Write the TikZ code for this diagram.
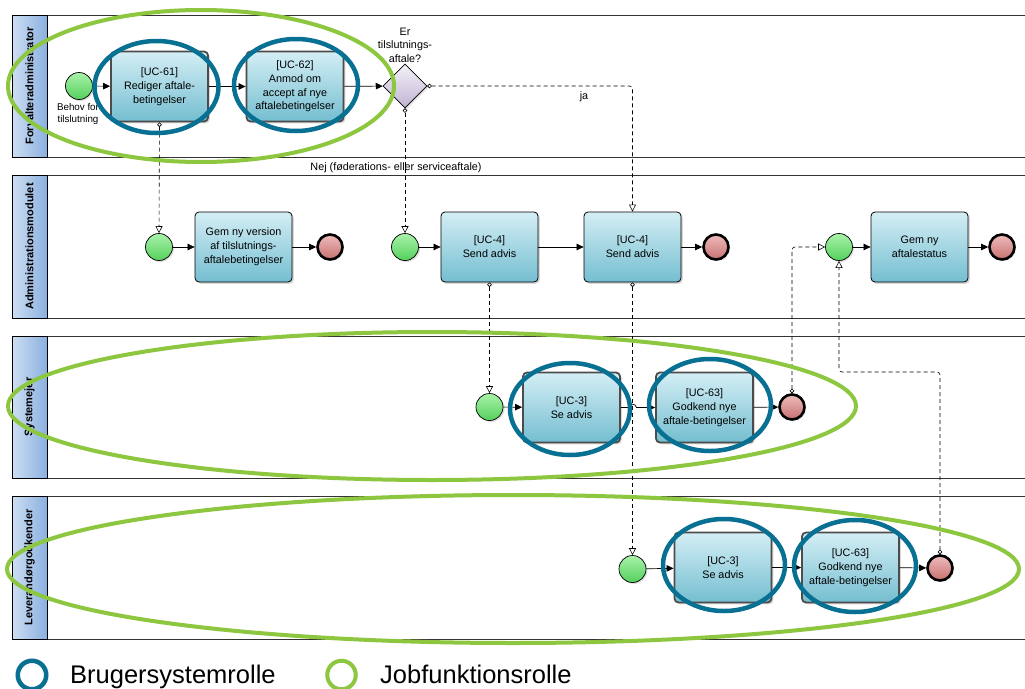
\documentclass[tikz,border=0pt]{standalone}
\usepackage{fontspec}
\setmainfont{Liberation Sans}
\usetikzlibrary{shapes.geometric,arrows.meta,shadows}
\definecolor{taskTop}{RGB}{212,238,245}
\definecolor{taskBot}{RGB}{116,190,208}
\definecolor{startTop}{RGB}{170,242,170}
\definecolor{startBot}{RGB}{84,208,92}
\definecolor{endTop}{RGB}{238,188,188}
\definecolor{endBot}{RGB}{200,112,112}
\definecolor{gwTop}{RGB}{244,242,248}
\definecolor{gwBot}{RGB}{192,178,210}
\definecolor{laneL}{RGB}{205,222,242}
\definecolor{laneR}{RGB}{138,176,224}
\definecolor{roleBlue}{RGB}{8,112,146}
\definecolor{roleGreen}{RGB}{141,198,63}
\tikzset{
 task/.style={rectangle, rounded corners=4pt, draw=black, line width=0.8pt,
   top color=taskTop, bottom color=taskBot, minimum width=97pt, minimum height=70pt,
   align=center, font=\fontsize{10.8}{13.8}\selectfont, inner sep=2pt,
   drop shadow={shadow xshift=1.8pt, shadow yshift=-1.8pt, opacity=0.3}},
 calltask/.style={task, draw=black!70, line width=1.8pt},
 startev/.style={circle, draw=black, line width=0.7pt, top color=startTop, bottom color=startBot,
   minimum size=27pt, inner sep=0pt, drop shadow={shadow xshift=1.5pt, shadow yshift=-1.5pt, opacity=0.25}},
 endev/.style={circle, draw=black, line width=2.6pt, top color=endTop, bottom color=endBot,
   minimum size=25pt, inner sep=0pt, drop shadow={shadow xshift=1.5pt, shadow yshift=-1.5pt, opacity=0.25}},
 gateway/.style={diamond, draw=black, line width=0.7pt, top color=gwTop, bottom color=gwBot,
   minimum width=44pt, minimum height=44pt, inner sep=0pt,
   drop shadow={shadow xshift=1.5pt, shadow yshift=-1.5pt, opacity=0.25}},
 seqflow/.style={draw=black, line width=0.7pt, -{Triangle[length=7pt,width=6.5pt]}},
 msgflow/.style={draw=black, line width=0.6pt, dash pattern=on 4pt off 3pt, rounded corners=3pt,
   {Circle[open,length=4.5pt,width=4.5pt]}-{Triangle[open,length=7pt,width=7pt]}},
 lane/.style={draw=black!80, line width=1pt},
 lanehead/.style={draw=black, line width=1pt, left color=laneL, right color=laneR},
 lanelabel/.style={rotate=90, font=\bfseries\fontsize{11}{13}\selectfont},
 small/.style={align=center, font=\fontsize{10.8}{13.5}\selectfont},
 blueRing/.style={draw=roleBlue, line width=4.5pt},
 greenRing/.style={draw=roleGreen, line width=4pt},
 legendtext/.style={anchor=base west, inner sep=0pt, font=\fontsize{25.5}{30}\selectfont},
}
\begin{document}
\begin{tikzpicture}[x=1pt,y=-1pt]
\clip (0,0) rectangle (1025,688);
\fill[white] (0,0) rectangle (1025,688);

% lanes
\draw[lane] (12,15) rectangle (1040,157);
\draw[lane] (12,175) rectangle (1040,318);
\draw[lane] (12,336) rectangle (1040,478);
\draw[lane] (12,496) rectangle (1040,639);
\draw[lanehead] (12,15) rectangle (47,157);
\draw[lanehead] (12,175) rectangle (47,318);
\draw[lanehead] (12,336) rectangle (47,478);
\draw[lanehead] (12,496) rectangle (47,639);
\node[lanelabel] (l1) at (29.5,86) {Forvalteradministrator};
\node[lanelabel] (l2) at (29.5,246.5) {Administrationsmodulet};
\node[lanelabel] (l3) at (29.5,407) {Systemejer};
\node[lanelabel] (l4) at (29.5,567.5) {Leverandørgodkender};

% lane 1
\node[startev] (s1) at (79,86) {};
\node[small, font=\fontsize{9.8}{12}\selectfont] (s1l) at (78,114) {Behov for\\tilslutning};
\node[calltask] (t61) at (159.5,86.5) {[UC-61]\\Rediger aftale-\\betingelser};
\node[calltask] (t62) at (295,86.5) {[UC-62]\\Anmod om\\accept af nye\\aftalebetingelser};
\node[gateway] (gw) at (405,86) {};
\node[small] (gwl) at (405,45) {Er\\tilslutnings-\\aftale?};

% lane 2
\node[startev] (s2) at (159,247) {};
\node[task] (tg) at (243.5,247) {Gem ny version\\af tilslutnings-\\aftalebetingelser};
\node[endev] (e2) at (330,247) {};
\node[startev] (s3) at (405,247) {};
\node[task] (t4a) at (489.5,247) {[UC-4]\\Send advis};
\node[task] (t4b) at (632.5,247) {[UC-4]\\Send advis};
\node[endev] (e3) at (716,247) {};
\node[startev] (s4) at (839,247) {};
\node[task] (tgs) at (919.5,247) {Gem ny\\aftalestatus};
\node[endev] (e4) at (1002,247) {};

% lane 3
\node[startev] (s5) at (489.5,407) {};
\node[calltask] (t3a) at (571.5,407.5) {[UC-3]\\Se advis};
\node[calltask] (t63a) at (704.5,407.5) {[UC-63]\\Godkend nye\\aftale-betingelser};
\node[endev] (e5) at (792,407) {};

% lane 4
\node[startev] (s6) at (632.5,569) {};
\node[calltask] (t3b) at (723,567.5) {[UC-3]\\Se advis};
\node[calltask] (t63b) at (850.5,567.5) {[UC-63]\\Godkend nye\\aftale-betingelser};
\node[endev] (e6) at (940,568) {};

% sequence flows
\draw[seqflow] (s1) -- (t61);
\draw[seqflow] (t61) -- (t62);
\draw[seqflow] (t62) -- (gw);
\draw[seqflow] (s2) -- (tg);
\draw[seqflow] (tg) -- (e2);
\draw[seqflow] (s3) -- (t4a);
\draw[seqflow] (t4a) -- (t4b);
\draw[seqflow] (t4b) -- (e3);
\draw[seqflow] (s4) -- (tgs);
\draw[seqflow] (tgs) -- (e4);
\draw[seqflow] (s5) -- (t3a);
\draw[seqflow] (t3a.east) -- (628.5,407.5) .. controls (629.5,403) and (635.5,403) .. (636.5,407.5) -- (t63a.west);
\draw[seqflow] (t63a) -- (e5);
\draw[seqflow] (s6) -- (t3b);
\draw[seqflow] (t3b) -- (t63b);
\draw[seqflow] (t63b) -- (e6);

% message flows
\draw[msgflow] (t61.south) -- (s2.north);
\draw[msgflow] (gw.south) -- (s3.north);
\draw[msgflow] (gw.east) -- (632.5,86) -- (t4b.north);
\draw[msgflow] (t4a.south) -- (s5.north);
\draw[msgflow] (t4b.south) -- (s6.north);
\draw[msgflow] (e5.north) -- (792,247) -- (s4.west);
\draw[msgflow] (e6.north) -- (940,372) -- (839,372) -- (s4.south);

\node[small] (ja) at (584,97) {ja};
\node[small] (nej) at (396,168) {Nej (føderations- eller serviceaftale)};

% role ellipses
\draw[greenRing] (201,86) ellipse [x radius=193pt, y radius=76pt];
\draw[greenRing] (432,406) ellipse [x radius=424pt, y radius=74pt];
\draw[greenRing] (513,569) ellipse [x radius=506pt, y radius=74pt];
\draw[blueRing] (156.5,87) ellipse [x radius=62pt, y radius=46pt];
\draw[blueRing] (296,85) ellipse [x radius=62pt, y radius=46pt];
\draw[blueRing] (570,409) ellipse [x radius=60pt, y radius=46pt];
\draw[blueRing] (710,405) ellipse [x radius=61pt, y radius=46pt];
\draw[blueRing] (724,565) ellipse [x radius=61pt, y radius=46pt];
\draw[blueRing] (855,566) ellipse [x radius=61pt, y radius=46pt];

% legend
\node[circle, blueRing, minimum size=28.5pt, inner sep=0pt] (lc1) at (32,675) {};
\node[legendtext] (lt1) at (70,683) {Brugersystemrolle};
\node[circle, greenRing, minimum size=28.5pt, inner sep=0pt] (lc2) at (341.5,675) {};
\node[legendtext] (lt2) at (380,683) {Jobfunktionsrolle};
\end{tikzpicture}
\end{document}
